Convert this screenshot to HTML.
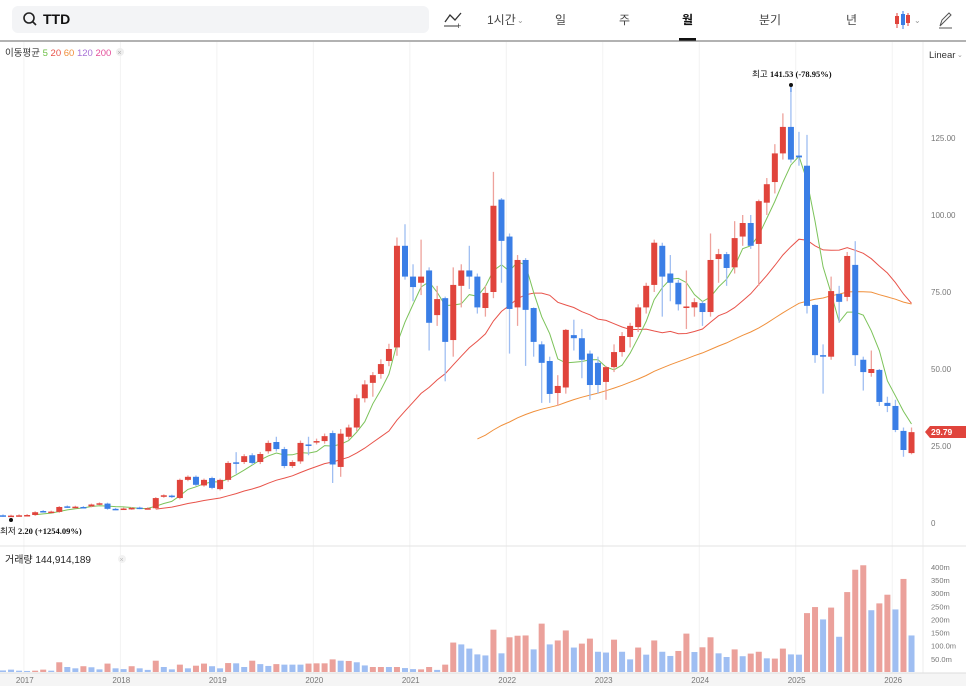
<!DOCTYPE html>
<html><head><meta charset="utf-8">
<style>
html,body{margin:0;padding:0;background:#fff;width:966px;height:686px;overflow:hidden;font-family:"Liberation Sans","Noto Sans CJK KR",sans-serif;}
svg text{font-family:"Liberation Sans","Noto Sans CJK KR",sans-serif;}
</style></head><body>
<svg id="s" width="966" height="686" viewBox="0 0 966 686" xmlns="http://www.w3.org/2000/svg">
<rect x="0" y="0" width="966" height="686" fill="#fff"/>
<!-- top bar -->
<rect x="12" y="6" width="417" height="27" rx="6" fill="#f3f4f6"/>
<circle cx="29" cy="18" r="5" fill="none" stroke="#222" stroke-width="1.6"/>
<line x1="32.5" y1="21.5" x2="36" y2="25" stroke="#222" stroke-width="1.6"/>
<text x="43" y="24" font-size="14" font-weight="bold" fill="#111">TTD</text>
<polyline points="445,22 450,15 455,20 461,13" fill="none" stroke="#333" stroke-width="1.3"/>
<line x1="444" y1="26" x2="458" y2="26" stroke="#333" stroke-width="1"/>
<text x="456" y="29" font-size="9" fill="#333">+</text>
<text x="487" y="24" font-size="12" fill="#444">1시간</text>
<text x="517" y="23" font-size="8" fill="#999">⌄</text>
<text x="555" y="24" font-size="12" fill="#444">일</text>
<text x="619" y="24" font-size="12" fill="#444">주</text>
<text x="682" y="24" font-size="12" font-weight="bold" fill="#111">월</text>
<rect x="679" y="38" width="17" height="3" fill="#111"/>
<text x="759" y="24" font-size="12" fill="#444">분기</text>
<text x="846" y="24" font-size="12" fill="#444">년</text>
<line x1="897" y1="13" x2="897" y2="28" stroke="#e0443c"/><rect x="895" y="16" width="4" height="8" fill="#e0443c"/>
<line x1="903" y1="11" x2="903" y2="29" stroke="#3a7ee6"/><rect x="901" y="14" width="4" height="11" fill="#3a7ee6"/>
<line x1="908" y1="13" x2="908" y2="26" stroke="#e0443c"/><rect x="906" y="15" width="4" height="8" fill="#e0443c"/>
<text x="914" y="23" font-size="8" fill="#999">⌄</text>
<path d="M940 26 L942 20 L949 13 L951 15 L944 22 Z" fill="none" stroke="#555" stroke-width="1"/>
<line x1="939" y1="28" x2="952" y2="28" stroke="#555"/>
<line x1="0" y1="41" x2="966" y2="41" stroke="#666" stroke-width="1"/>
<g id="grid"></g>
<text x="5" y="56" font-size="9.5" fill="#333">이동평균 <tspan fill="#6cbf45">5</tspan> <tspan fill="#e8534a">20</tspan> <tspan fill="#f0903c">60</tspan> <tspan fill="#a872d6">120</tspan> <tspan fill="#e44f9a">200</tspan></text>
<circle cx="120" cy="52" r="4" fill="#eee"/><text x="117.5" y="55" font-size="7" fill="#aaa">×</text>
<text x="929" y="58" font-size="9.5" fill="#333">Linear</text><text x="957" y="57" font-size="7" fill="#999">⌄</text>
<line x1="923" y1="42" x2="923" y2="673" stroke="#eee"/>
<line x1="0" y1="546" x2="966" y2="546" stroke="#e3e3e3"/>
<text x="5" y="563" font-size="10" fill="#222">거래량 144,914,189</text>
<circle cx="122" cy="559" r="4" fill="#f2f2f2"/><text x="119.5" y="562" font-size="7" fill="#bbb">×</text>
<g id="vol"></g>
<g id="ma"></g>
<g id="cd"></g>
<rect x="0" y="673" width="966" height="13" fill="#f5f5f5"/>
<line x1="0" y1="673" x2="966" y2="673" stroke="#ddd"/>
<g id="axis" font-size="8" fill="#777"></g>
<path d="M925 432 L930 426 L966 426 L966 438 L930 438 Z" fill="#e0443c"/>
<text x="931" y="435" font-size="8.5" font-weight="bold" fill="#fff">29.79</text>
<line x1="791" y1="85" x2="791" y2="92" stroke="#3a7ee6"/>
<circle cx="791" cy="85" r="2" fill="#111"/>
<text x="752" y="77" font-size="8.5" fill="#111">최고 <tspan font-family="Liberation Serif" font-weight="bold">141.53 (-78.95%)</tspan></text>
<circle cx="11" cy="520" r="2" fill="#111"/>
<text x="0" y="534" font-size="8.5" fill="#111">최저 <tspan font-family="Liberation Serif" font-weight="bold">2.20 (+1254.09%)</tspan></text>
</svg>
<script>
var NS="http://www.w3.org/2000/svg";
function el(p,t,a){var e=document.createElementNS(NS,t);for(var k in a)e.setAttribute(k,a[k]);p.appendChild(e);return e;}
var R="#e0443c",B="#3a7ee6";
var P=[[2.5,2.3,B],[2.4,2.3,R],[2.5,2.4,R],[2.6,2.5,R],[3.5,2.6,R],[3.9,3.7,B],[3.7,3.6,R],[5.2,3.6,R],[5.4,5.2,B],[5.3,5.1,R],[5.2,5.1,B],[6,5.4,R],[6.4,6.1,R],[6.3,4.6,B],[4.6,4.5,B],[4.7,4.6,R],[4.9,4.6,R],[5.0,4.8,B],[4.8,4.7,R],[8.1,4.8,R],[9,8.5,R],[8.9,8.4,B],[14,8.1,R],[15,14,R],[15,12.4,B],[14,12.2,R],[14.6,11.4,B],[14,11,R],[19.5,14,R],[19.7,19.3,B,23,16],[21.7,19.8,R],[22,19.5,B],[22.4,19.8,R],[26,23.3,R],[26.3,24,B,28],[24,18.5,B],[19.8,18.5,R],[26,20,R],[25.5,25.1,B,28,22],[26.6,26.3,R],[28.2,26.6,R],[29.2,19,B,30,13],[29,18.2,R,30.5,15],[31,28,R],[40.5,31,R],[45,40.5,R],[48,45.5,R,49,41],[51.6,48.4,R],[56.5,52.6,R],[90,57,R],[90,80,B,97,79],[80,76.6,B,84,72],[80,78,R,92,74],[82,65,B,83,56],[72.7,67.5,R,77,64],[73,58.8,B,73.5,46],[77.3,59.4,R,83,54],[82,77,R,84,70],[82,80,B,90,76],[80,70,B,81,68],[74.7,69.8,R,77,67],[103,75,R,114,73],[105,91.6,B,105.5,78],[93,69.5,B,94,55],[85.4,70,R,87,64],[85.4,69.2,B,86,51],[69.8,58.8,B,70,54],[58,52,B,59,39],[52.6,41.9,B,54,39],[44.5,42.2,R,48,38],[62.7,44,R,63,42],[61,60,B,66,56],[60,53,B,63,47],[55,44.8,B,56,40],[52,44.8,B,54,42],[50.6,45.8,R,51,40],[55.5,50.6,R,58,49],[60.7,55.5,R,62,54],[64,60.4,R,65,57],[70,63.6,R,71,62],[77,70,R,78,68],[91,77.3,R,92,75],[90,80,B,91,67],[81,78,B,87,72],[78,71,B,79,69],[70.3,69.8,R,82,63],[71.7,70,R,73,67],[71.4,68.5,B,72,64],[85.4,68.5,R,94,67],[87.3,85.7,R,89,78],[87.3,82.8,B,88,77],[92.5,83,R,98,81],[97.4,93,R,100,90],[97.4,90,B,100,89],[104.5,90.6,R,105,77],[110,104,R,112,100],[120,110.7,R,123,107],[128.6,120,R,133,118],[128.6,118,B,141.5,117],[119.3,118.7,B,127,116],[116,70.5,B,126,68],[70.8,54.5,B,71,52],[54.5,54,B,58,42],[75.3,54,R,80,53],[74.4,71.8,B,77,65],[86.7,73.4,R,88,72],[83.8,54.5,B,91.5,51],[53,49,B,54,43],[50,48.7,R,56,47.5],[49.7,39.3,B,50,38],[39,38,B,41,36],[38,30.2,B,40,29.5],[29.9,23.7,B,31,21.5],[29.5,22.7,R,31,22.3]];
var V=[[6,B],[9,B],[5,B],[4,B],[5,R],[9,R],[5,B],[37,R],[19,B],[14,B],[22,R],[18,B],[10,B],[32,R],[14,B],[11,B],[22,R],[14,B],[8,B],[43,R],[19,B],[10,B],[28,R],[14,B],[24,R],[32,R],[22,B],[14,B],[34,R],[33,B],[19,B],[43,R],[30,B],[23,B],[30,R],[28,B],[28,B],[28,B],[32,R],[33,R],[33,R],[48,R],[43,B],[42,R],[37,B],[25,B],[19,R],[19,R],[19,B],[19,R],[15,B],[11,B],[10,R],[19,R],[8,B],[28,R],[112,R],[105,B],[89,B],[67,B],[63,B],[161,R],[71,B],[132,R],[138,R],[139,R],[86,B],[184,R],[105,B],[120,R],[158,R],[93,B],[108,R],[127,R],[77,B],[74,B],[123,R],[77,B],[48,B],[93,R],[66,B],[120,R],[77,B],[61,B],[80,R],[146,R],[76,B],[94,R],[132,R],[71,B],[57,B],[86,R],[60,B],[70,R],[77,R],[52,B],[51,R],[89,R],[67,B],[66,B],[224,R],[247,R],[200,B],[245,R],[134,B],[304,R],[389,R],[406,R],[235,B],[261,R],[294,R],[238,B],[354,R],[139,B]];
function X(i){return 3+8.04*i;}
function Y(p){return 523-3.08*p;}
var g=document.getElementById("grid");
var yrs=[2017,2018,2019,2020,2021,2022,2023,2024,2025,2026];
yrs.forEach(function(y,k){var x=X(2.6+12*k);el(g,"line",{x1:x,y1:42,x2:x,y2:673,stroke:"#f2f2f2"});});
var ax=document.getElementById("axis");
yrs.forEach(function(y,k){var x=X(2.6+12*k);var t=el(ax,"text",{x:x-8,y:683});t.textContent=y;});
[[125,"125.00"],[100,"100.00"],[75,"75.00"],[50,"50.00"],[25,"25.00"],[0,"0"]].forEach(function(a){var t=el(ax,"text",{x:931,y:Y(a[0])+3});t.textContent=a[1];});
[[400,"400m"],[350,"350m"],[300,"300m"],[250,"250m"],[200,"200m"],[150,"150m"],[100,"100.0m"],[50,"50.0m"]].forEach(function(a){var t=el(ax,"text",{x:931,y:672-0.2629*a[0]+3,"font-size":"7.5"});t.textContent=a[1];});
var vg=document.getElementById("vol");
V.forEach(function(v,i){var h=Math.max(1,0.2629*v[0]);el(vg,"rect",{x:X(i)-3,y:672-h,width:6,height:h,fill:v[1]==R?"#eba19b":"#9fbef2"});});
var cg=document.getElementById("cd");
var C=[];
P.forEach(function(p,i){var top=p[0],bot=p[1],col=p[2];var d=Math.max(0.3,0.03*top);var hi=p[3]!==undefined?p[3]:top+d;var lo=p[4]!==undefined?p[4]:bot-d;
var x=X(i);el(cg,"line",{x1:x,y1:Y(hi),x2:x,y2:Y(lo),stroke:col==R?"#eea29c":"#9fbef2","stroke-width":1.3});
var y1=Y(top),h=Math.max(1.5,Y(bot)-y1);el(cg,"rect",{x:x-3,y:y1,width:6,height:h,fill:col});
C.push(col==R?top:bot);});
var mg=document.getElementById("ma");
function ma(n,col){var pts=[];for(var i=n-1;i<C.length;i++){var s=0;for(var j=i-n+1;j<=i;j++)s+=C[j];pts.push(X(i).toFixed(1)+","+Y(s/n).toFixed(1));}el(mg,"polyline",{points:pts.join(" "),fill:"none",stroke:col,"stroke-width":1});}
ma(60,"#f0903c");ma(20,"#e8534a");ma(5,"#7cc35a");
</script>
</body></html>
